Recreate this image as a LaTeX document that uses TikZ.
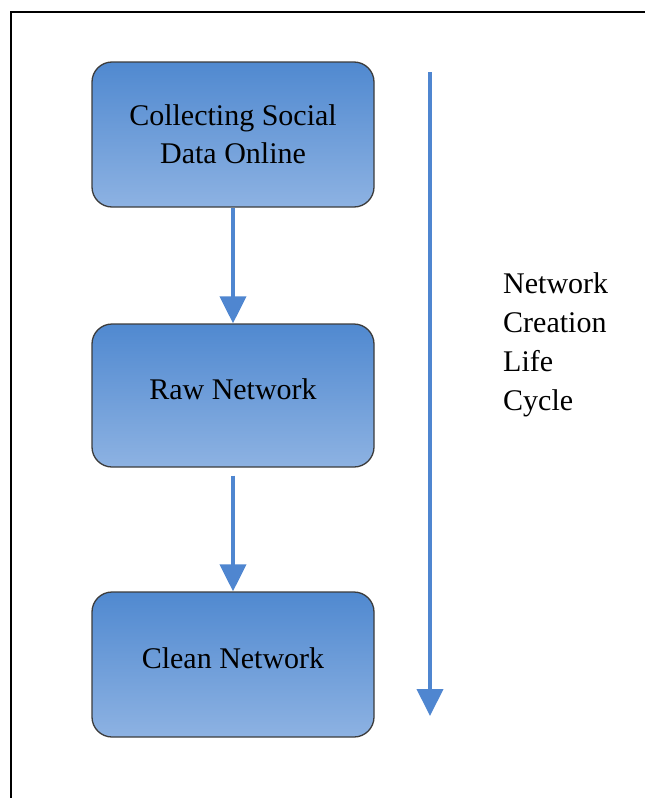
\documentclass[tikz,border=0pt]{standalone}
\usepackage{fontspec}
\setmainfont{Liberation Serif}
\usetikzlibrary{arrows.meta}
\definecolor{boxtop}{RGB}{80,137,208}
\definecolor{boxbot}{RGB}{141,178,226}
\definecolor{flow}{RGB}{79,134,208}
\definecolor{rim}{RGB}{60,60,60}
\begin{document}
\begin{tikzpicture}[x=1pt,y=-1pt,
  stage/.style={draw=rim, line width=1.3pt, rounded corners=20pt,
    top color=boxtop, bottom color=boxbot,
    minimum width=282pt, minimum height=145pt, inner sep=0pt,
    align=center, font=\fontsize{30}{38}\selectfont},
  oneline/.style={text height=20pt, text depth=12pt},
  flowarrow/.style={draw=flow, line width=4pt,
    -{Triangle[length=27pt,width=26pt]}},
  sidetext/.style={align=left, inner sep=0pt, anchor=north west,
    font=\fontsize{30}{39}\selectfont}]
\useasboundingbox (0,0) rectangle (645,798);
% page frame
\draw[line width=2pt] (11,798) -- (11,12) -- (645,12);
% stages
\node[stage] (b1) at (233,134.5) {Collecting Social\\Data Online};
\node[stage, oneline, minimum height=143pt] (b2) at (233,395.5) {Raw Network};
\node[stage, oneline] (b3) at (233,664.5) {Clean Network};
% flow between stages
\draw[flowarrow] (b1.south) -- (b2.north);
\draw[flowarrow] ([yshift=-8pt]b2.south) -- (b3.north);
% life cycle arrow and caption
\coordinate (lc1) at (430,72);
\coordinate (lc2) at (430,716);
\draw[flowarrow] (lc1) -- (lc2);
\node[sidetext] (cap) at (503,272) {Network\\Creation\\Life\\Cycle};
\end{tikzpicture}
\end{document}
